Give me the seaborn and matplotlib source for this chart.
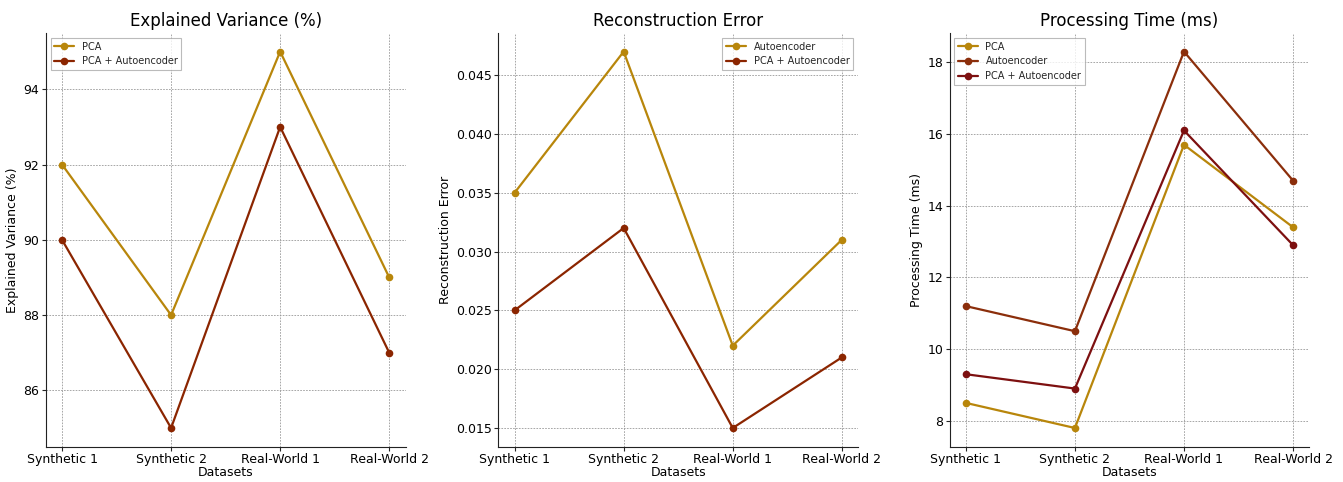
import matplotlib.pyplot as plt
import seaborn as sns
import pandas as pd

datasets = ["Synthetic 1", "Synthetic 2", "Real-World 1", "Real-World 2"]

# explained variance (%)
var_pca = [92, 88, 95, 89]
var_combo = [90, 85, 93, 87]

# reconstruction error
err_ae = [0.035, 0.047, 0.022, 0.031]
err_combo = [0.025, 0.032, 0.015, 0.021]

# processing time (ms)
time_pca = [8.5, 7.8, 15.7, 13.4]
time_ae = [11.2, 10.5, 18.3, 14.7]
time_combo = [9.3, 8.9, 16.1, 12.9]

colors = {"PCA": "#b8860b", "Autoencoder": "#8b2e0b", "PCA + Autoencoder": "#7d1010"}


def long_df(series):
    rows = []
    for name, vals in series.items():
        for d, v in zip(datasets, vals):
            rows.append({"Datasets": d, "value": v, "Method": name})
    return pd.DataFrame(rows)


panels = [
    ("Explained Variance (%)", "Explained Variance (%)",
     {"PCA": var_pca, "PCA + Autoencoder": var_combo}, "upper left",
     {"PCA": "#b8860b", "PCA + Autoencoder": "#8b2500"}),
    ("Reconstruction Error", "Reconstruction Error",
     {"Autoencoder": err_ae, "PCA + Autoencoder": err_combo}, "upper right",
     {"Autoencoder": "#b8860b", "PCA + Autoencoder": "#8b2500"}),
    ("Processing Time (ms)", "Processing Time (ms)",
     {"PCA": time_pca, "Autoencoder": time_ae, "PCA + Autoencoder": time_combo}, "upper left",
     colors),
]

sns.set_style("white")
plt.rcParams['font.family'] = ['DejaVu Sans']

fig = plt.figure(figsize=(13.43, 4.82), dpi=100)
lefts = [0.034, 0.371, 0.707]
for (title, ylabel, series, loc, pal), left in zip(panels, lefts):
    ax = fig.add_axes([left, 0.073, 0.268, 0.859])
    df = long_df(series)
    sns.lineplot(data=df, x="Datasets", y="value", hue="Method", palette=pal,
                 marker="o", markersize=5.5, markeredgewidth=0, linewidth=1.6,
                 sort=False, ax=ax)
    ax.set_title(title, fontsize=12, color="black", pad=5)
    ax.set_ylabel(ylabel, fontsize=9, color="black", labelpad=3)
    ax.set_xlabel("Datasets", fontsize=9, color="black", labelpad=0)
    ax.tick_params(labelsize=9, length=3, pad=1.5, left=True, bottom=True, labelcolor="black")
    ax.grid(True, linestyle=(0, (2, 1.5)), color="#999999", linewidth=0.6)
    for s in ax.spines.values():
        s.set_color("#222222")
    sns.despine(ax=ax)
    leg = ax.legend(loc=loc, fontsize=7, frameon=True, fancybox=False, edgecolor="#aaaaaa")
    leg.get_frame().set_linewidth(0.8)

fig.savefig("out.png", dpi=100)
